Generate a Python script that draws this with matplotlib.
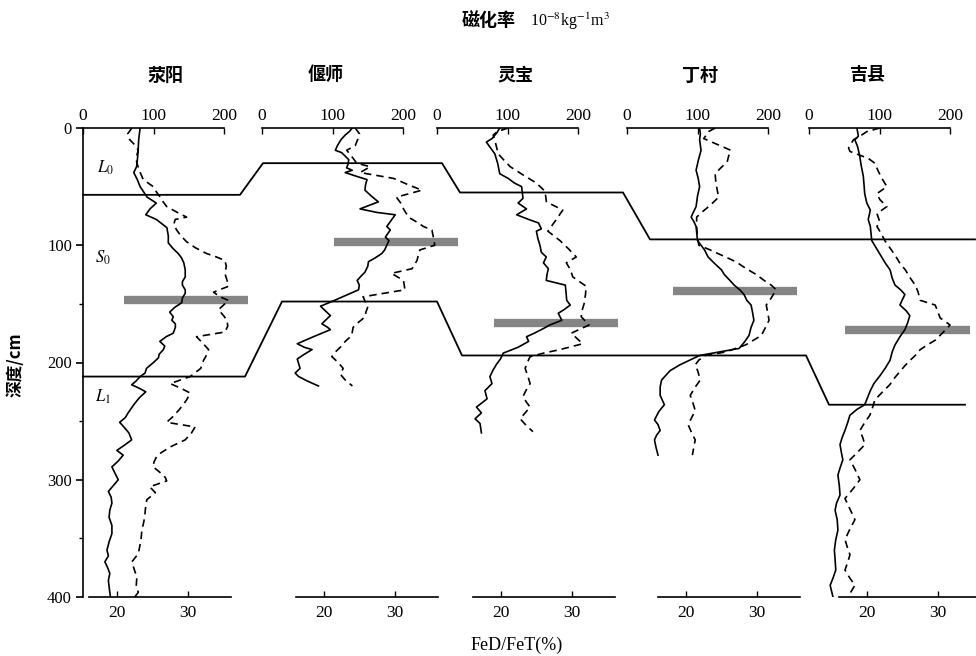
import matplotlib
matplotlib.use("Agg")
import matplotlib.pyplot as plt

plt.rcParams['font.family'] = ['Liberation Serif', 'Noto Sans CJK SC']
plt.rcParams['mathtext.fontset'] = 'stix'

# ---- data (depth in cm) ----
sites = ["荥阳", "偃师", "灵宝", "丁村", "吉县"]

# 荥阳
xy_d_sus = [0, 10, 21, 28, 33, 38, 44, 50, 59, 64, 69, 74, 78, 85, 92, 98, 103, 107, 111, 115, 121, 127,
            131, 134, 138, 141, 145, 149, 153, 157, 161, 164, 167, 170, 175, 178, 182, 186, 189, 193, 196,
            200, 205, 209, 212, 216, 219, 222, 225, 230, 236, 243, 247, 251, 255, 260, 266, 270, 275, 279,
            284, 289, 294, 300, 305, 310, 315, 320, 326, 332, 339, 346, 353, 360, 365, 370, 375, 380, 386,
            391, 396, 400]
xy_sus = [81, 79, 78, 77, 76, 72, 77, 81, 91, 104, 95, 89, 104, 119, 121, 121, 128, 135, 140, 143, 145, 145,
          141, 141, 145, 145, 141, 140, 130, 123, 128, 126, 131, 131, 128, 118, 109, 116, 114, 108, 107,
          100, 90, 88, 81, 75, 69, 80, 89, 80, 72, 64, 60, 52, 58, 65, 69, 60, 48, 57,
          50, 41, 45, 50, 43, 36, 40, 41, 38, 37, 41, 41, 37, 34, 36, 31, 35, 38, 36,
          37, 38, 39]
xy_d_fe = [0, 5, 10, 15, 19, 25, 30, 37, 44, 50, 55, 59, 63, 67, 72, 76, 78, 82, 87, 92, 97, 102, 107, 110,
           113, 118, 124, 130, 135, 140, 144, 147, 151, 155, 160, 164, 169, 174, 178, 183, 189, 195, 198,
           205, 212, 218, 222, 226, 232, 240, 246, 251, 255, 260, 266, 272, 277, 280, 285, 289, 294, 298,
           301, 306, 311, 317, 325, 332, 338, 343, 350, 357, 363, 370, 376, 383, 391, 396, 400]
xy_fe = [22.1, 21.5, 21.8, 22.6, 23.0, 22.7, 22.8, 23.2, 23.7, 25.1, 25.6, 26.1, 26.5, 27.0, 28.5, 29.8, 28.2,
         28.0, 28.4, 29.0, 29.8, 31.0, 32.6, 34.0, 35.2, 35.4, 35.2, 35.5, 35.7, 33.6, 34.5, 35.7, 35.0, 34.3,
         35.0, 35.5, 35.6, 35.2, 31.2, 32.0, 32.9, 32.5, 32.2, 31.8, 30.3, 27.5, 29.0, 30.3, 29.8, 28.8,
         27.9, 27.0, 31.0, 30.5, 29.6, 27.5, 26.2, 25.6, 25.2, 25.1, 26.1, 26.8, 27.0, 24.6, 25.4, 24.2,
         24.0, 23.9, 23.7, 23.5, 23.4, 23.2, 23.0, 22.1, 22.4, 22.8, 22.7, 23.0, 22.5]

# 偃师
ys_d_sus = [0, 3, 6, 10, 15, 19, 21, 27, 31, 34, 36, 38, 41, 44, 48, 53, 58, 63, 66, 69, 72, 74, 79, 84, 87,
            93, 96, 100, 104, 107, 111, 114, 118, 123, 126, 130, 134, 138, 143, 148, 152, 156, 160, 164,
            167, 170, 172, 178, 184, 187, 189, 193, 197, 201, 205, 209, 212, 216, 220]
ys_sus = [128, 124, 118, 112, 107, 104, 113, 123, 122, 120, 128, 118, 133, 149, 147, 146, 155, 165, 152, 139,
          163, 189, 183, 177, 182, 175, 180, 177, 174, 170, 160, 151, 150, 146, 141, 135, 138, 137, 118, 99,
          83, 90, 97, 90, 85, 93, 97, 73, 50, 60, 71, 60, 50, 52, 54, 47, 52, 65, 80]
ys_d_fe = [0, 5, 9, 15, 19, 25, 30, 33, 38, 43, 49, 53, 59, 64, 69, 76, 80, 84, 87, 93, 100, 104, 108, 113,
           120, 124, 130, 138, 141, 144, 148, 152, 157, 161, 166, 170, 177, 182, 187, 191, 195, 200, 205,
           210, 215, 220]
ys_fe = [24.4, 25.0, 24.8, 24.4, 23.2, 24.0, 24.6, 26.5, 25.1, 29.8, 32.1, 33.8, 30.2, 30.8, 31.2, 31.9, 33.0,
         34.0, 35.2, 35.4, 35.6, 33.5, 33.3, 33.1, 32.4, 29.5, 31.2, 31.4, 28.4, 25.5, 25.8, 26.2, 25.9, 25.8,
         24.8, 24.1, 23.9, 23.0, 22.3, 21.6, 21.1, 22.0, 22.7, 22.3, 23.0, 24.0]

# 灵宝
lb_d_sus = [0, 4, 9, 12, 17, 22, 30, 39, 43, 47, 50, 55, 60, 64, 69, 74, 78, 81, 86, 88, 94, 100, 106, 110,
            115, 120, 125, 130, 134, 140, 147, 151, 155, 158, 164, 168, 171, 175, 178, 182, 187, 192, 197,
            201, 206, 212, 218, 224, 231, 238, 243, 248, 252, 256, 260]
lb_sus = [89, 85, 78, 70, 76, 82, 86, 89, 101, 110, 120, 121, 122, 115, 127, 113, 130, 144, 148, 141, 143, 146,
          148, 155, 151, 158, 156, 155, 182, 183, 184, 189, 180, 172, 177, 160, 151, 138, 127, 130, 115, 94,
          90, 85, 80, 75, 78, 68, 71, 56, 63, 54, 61, 62, 63]
lb_d_fe = [0, 3, 6, 12, 22, 28, 33, 40, 47, 54, 63, 70, 78, 88, 96, 103, 110, 115, 121, 127, 135, 142, 150,
           156, 161, 168, 175, 184, 189, 192, 195, 200, 205, 212, 218, 224, 229, 234, 238, 243, 248, 254, 259]
lb_fe = [21.0, 19.5, 18.9, 19.2, 19.6, 20.5, 21.3, 23.1, 25.0, 26.2, 26.4, 28.7, 27.8, 26.6, 28.3, 29.5, 30.6,
         29.2, 29.8, 30.1, 32.0, 31.9, 31.7, 31.4, 31.3, 32.4, 29.9, 31.5, 28.3, 26.0, 24.1, 23.7, 23.4, 23.8,
         24.1, 23.5, 23.1, 23.6, 24.1, 23.4, 22.7, 23.6, 24.5]

# 丁村
dc_d_sus = [0, 5, 10, 19, 28, 36, 43, 50, 58, 67, 72, 76, 80, 84, 90, 96, 104, 110, 116, 121, 125, 130, 134,
            138, 142, 147, 151, 157, 164, 170, 177, 183, 188, 191, 194, 198, 202, 207, 211, 215, 221, 228,
            232, 236, 242, 249, 253, 258, 262, 266, 272, 279]
dc_sus = [103, 104, 103, 105, 101, 98, 101, 103, 100, 98, 94, 91, 95, 98, 99, 100, 110, 115, 125, 134, 138,
          146, 152, 160, 166, 170, 176, 178, 180, 176, 173, 166, 159, 131, 103, 89, 75, 61, 55, 49, 47, 47,
          50, 53, 45, 39, 44, 47, 42, 39, 41, 44]
dc_d_fe = [0, 3, 9, 14, 19, 24, 29, 34, 39, 46, 53, 59, 66, 71, 76, 84, 92, 100, 104, 109, 114, 120, 125, 130,
           134, 138, 145, 151, 157, 164, 170, 177, 181, 185, 188, 191, 194, 198, 202, 208, 215, 221, 228,
           235, 241, 247, 253, 260, 266, 272, 279]
dc_fe = [24.1, 23.2, 22.5, 24.4, 26.3, 26.0, 25.8, 24.9, 24.1, 24.2, 24.4, 24.6, 23.4, 22.4, 21.5, 21.5, 21.6,
         21.8, 23.4, 25.2, 27.0, 28.5, 29.9, 31.0, 32.0, 32.7, 32.0, 31.3, 31.5, 31.7, 31.2, 30.6, 29.5,
         28.4, 27.0, 25.6, 22.7, 21.8, 21.3, 21.7, 22.0, 21.3, 20.6, 21.0, 21.3, 20.8, 20.3, 20.8, 21.3,
         21.1, 20.9]

# 吉县
jx_d_sus = [0, 7, 10, 16, 24, 32, 41, 48, 56, 64, 70, 78, 84, 90, 96, 102, 108, 115, 121, 128, 134, 138, 142,
            147, 151, 156, 160, 166, 172, 178, 185, 191, 198, 205, 211, 218, 224, 230, 236, 240, 245, 251,
            258, 264, 270, 277, 283, 290, 296, 305, 313, 320, 326, 334, 343, 351, 360, 368, 377, 384, 390,
            395, 400]
jx_sus = [68, 70, 65, 69, 72, 74, 77, 78, 79, 82, 87, 84, 87, 88, 89, 95, 101, 108, 115, 118, 122, 130, 136,
          132, 129, 138, 143, 140, 136, 129, 122, 118, 115, 108, 101, 92, 87, 83, 79, 68, 58, 55, 51, 47, 44,
          46, 48, 44, 41, 43, 44, 39, 37, 40, 41, 38, 36, 37, 38, 34, 30, 32, 34]
jx_d_fe = [0, 3, 7, 10, 17, 20, 26, 30, 37, 43, 50, 56, 61, 67, 73, 80, 84, 90, 96, 102, 108, 115, 121, 128,
           134, 140, 147, 151, 157, 162, 168, 175, 181, 185, 189, 194, 198, 203, 208, 213, 219, 225, 232,
           238, 245, 251, 258, 264, 270, 277, 283, 291, 300, 308, 316, 325, 334, 342, 351, 357, 364, 370,
           377, 384, 390, 395, 400]
jx_fe = [21.8, 20.0, 19.0, 18.1, 17.4, 17.6, 20.2, 21.1, 21.6, 22.1, 22.8, 21.4, 21.8, 22.8, 21.4, 21.8, 21.4,
         22.0, 22.5, 23.2, 23.9, 24.6, 25.4, 26.1, 26.8, 27.2, 27.5, 29.6, 30.0, 30.3, 31.7, 30.6, 29.6,
         28.5, 27.5, 26.8, 26.1, 25.3, 24.6, 23.9, 23.2, 22.2, 21.1, 20.8, 20.4, 19.7, 19.0, 19.4, 19.7,
         18.6, 17.6, 18.3, 19.0, 18.0, 16.9, 17.6, 18.3, 17.6, 16.9, 17.2, 17.6, 17.3, 16.9, 17.6, 18.3,
         17.8, 17.3]

sus_depths = [xy_d_sus, ys_d_sus, lb_d_sus, dc_d_sus, jx_d_sus]
sus_vals = [xy_sus, ys_sus, lb_sus, dc_sus, jx_sus]
fe_depths = [xy_d_fe, ys_d_fe, lb_d_fe, dc_d_fe, jx_d_fe]
fe_vals = [xy_fe, ys_fe, lb_fe, dc_fe, jx_fe]

# stratigraphic boundaries (cm) and gray marker depths
upper_depth = [57, 30, 55, 95, 95]
lower_depth = [212, 148, 194, 194, 236]
bar_depth = [147, 97, 166, 139, 172]

# ---- layout (pixels) ----
W, H = 976, 656
TOP, BOT = 128, 597
sus0 = [83, 262, 437, 627, 809]      # pixel of susceptibility 0
fe20 = [117, 324, 501, 686, 867]     # pixel of FeD/FeT 20
k_sus = 141 / 200.0
k_fe = 7.1
upper_px = [(83, 240), (263, 442), (460, 623), (650, 800), (800, 975)]
lower_px = [(83, 245), (282, 437), (462, 640), (640, 806), (829, 965)]
bar_px = [(124, 248), (334, 458), (494, 618), (673, 797), (845, 970)]
name_x = [165, 326, 515, 700, 868]

fig = plt.figure(figsize=(W / 100, H / 100), dpi=100)


def px_axes(l, r, t=TOP, b=BOT):
    return fig.add_axes([l / W, 1 - b / H, (r - l) / W, (b - t) / H])


# main depth axis
ax0 = px_axes(83, 976)
ax0.set_xlim(83, 976)
ax0.set_ylim(400, 0)
for s in ['top', 'right', 'bottom']:
    ax0.spines[s].set_visible(False)
ax0.spines['left'].set_linewidth(1.2)
ax0.set_xticks([])
ax0.set_yticks([0, 100, 200, 300, 400])
ax0.set_yticks([150, 250, 350], minor=True)
ax0.tick_params(axis='y', which='major', direction='out', length=5, width=1.2, labelsize=12, pad=3)
ax0.tick_params(axis='y', which='minor', direction='out', length=3, width=1.0)
ax0.patch.set_visible(False)

for depths, spans, in [(upper_depth, upper_px), (lower_depth, lower_px)]:
    xs, ys = [], []
    for d, (a, b) in zip(depths, spans):
        xs += [a, b]
        ys += [d, d]
    ax0.plot(xs, ys, color='black', lw=1.3, clip_on=False)

for d, (a, b) in zip(bar_depth, bar_px):
    ax0.hlines(d, a, b, color='#858585', lw=6, clip_on=False, zorder=1)

ax0.text(105, 34, r'$L_0$', fontsize=12, ha='center', va='center')
ax0.text(103, 111, r'$S_0$', fontsize=12, ha='center', va='center')
ax0.text(103, 229, r'$L_1$', fontsize=12, ha='center', va='center')

# one panel per site
for i in range(5):
    L = min(sus0[i], fe20[i] - 4 * k_fe) - 2
    R = max(sus0[i] + 200 * k_sus, fe20[i] + 16 * k_fe) + 2
    ax = px_axes(L, R)
    ax.patch.set_visible(False)
    ax.set_xlim(20 + (L - fe20[i]) / k_fe, 20 + (R - fe20[i]) / k_fe)
    ax.set_ylim(400, 0)
    for s in ['left', 'right', 'top']:
        ax.spines[s].set_visible(False)
    ax.spines['bottom'].set_bounds(16, 36)
    ax.spines['bottom'].set_linewidth(1.2)
    ax.set_xticks([20, 30])
    ax.set_yticks([])
    ax.tick_params(axis='x', direction='in', length=4, width=1.0, labelsize=12.5, pad=6)
    ax.plot(fe_vals[i], fe_depths[i], color='black', lw=1.2, ls=(0, (4.5, 3)))

    axt = ax.twiny()
    axt.set_xlim((L - sus0[i]) / k_sus, (R - sus0[i]) / k_sus)
    for s in ['left', 'right', 'bottom']:
        axt.spines[s].set_visible(False)
    axt.spines['top'].set_bounds(0, 200)
    axt.spines['top'].set_linewidth(1.2)
    axt.set_xticks([0, 100, 200])
    axt.tick_params(axis='x', direction='in', length=4, width=1.0, labelsize=12.5, pad=3)
    axt.plot(sus_vals[i], sus_depths[i], color='black', lw=1.2)

    fig.text(name_x[i] / W, 1 - 75 / H, sites[i], ha='center', va='center', fontsize=13,
             fontweight='bold', family=['Noto Sans CJK SC'])

fig.text(462 / W, 1 - 21 / H, '磁化率', ha='left', va='center', fontsize=13,
         fontweight='bold', family=['Noto Sans CJK SC'])
fig.text(530 / W, 1 - 21 / H, r'10$^{-8}$kg$^{-1}$m$^{3}$', ha='left', va='center', fontsize=11.5)
fig.text(15 / W, 1 - 365 / H, '深度/cm', rotation=90, ha='center', va='center', fontsize=12,
         fontweight='bold', family=['Noto Sans CJK SC'])
fig.text(517 / W, 1 - 645 / H, 'FeD/FeT(%)', ha='center', va='center', fontsize=13)

fig.savefig('out.png', dpi=100)
